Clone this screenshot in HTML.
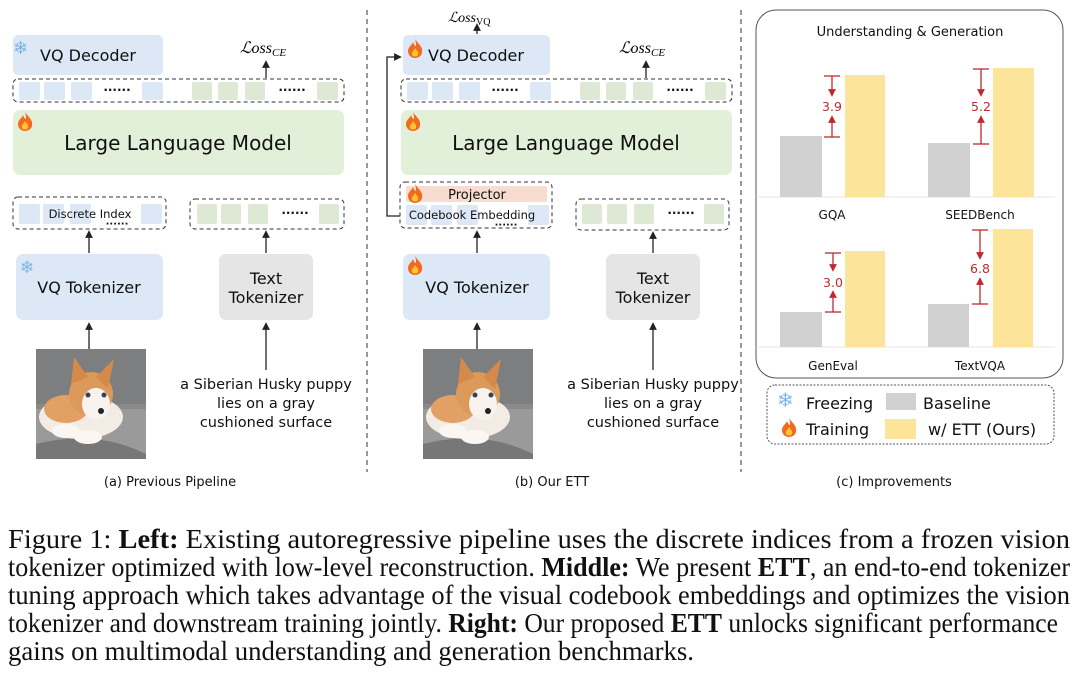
<!DOCTYPE html>
<html><head><meta charset="utf-8"><style>
html,body{margin:0;padding:0;background:#fff;}
svg{display:block;}
.t{font-family:"DejaVu Sans","Liberation Sans",sans-serif;fill:#111;}
.sn{font-family:"DejaVu Sans","Liberation Sans",sans-serif;fill:#7ab6e6;}
.s{font-family:"Liberation Serif",serif;fill:#111;font-size:27px;}
</style></head><body>
<svg width="1080" height="682" viewBox="0 0 1080 682" xmlns="http://www.w3.org/2000/svg">
<defs>
<marker id="ar" markerWidth="6" markerHeight="6" refX="3" refY="3" orient="auto"><path d="M0,0 L6,3 L0,6 z" fill="#222"/></marker>
<marker id="rr" markerWidth="6" markerHeight="6" refX="3" refY="3" orient="auto"><path d="M0,0 L6,3 L0,6 z" fill="#c0282d"/></marker>
<g id="pup">
<rect x="0" y="0" width="110" height="110" fill="#8a8a8a"/>
<rect x="0" y="0" width="110" height="55" fill="#7d7e80"/>
<rect x="0" y="60" width="110" height="50" fill="#9a9a9a"/>
<path d="M0,95 Q60,80 110,105 L110,110 L0,110z" fill="#777"/>
<ellipse cx="45" cy="68" rx="42" ry="22" fill="#f3ece4"/>
<ellipse cx="30" cy="60" rx="22" ry="14" fill="#e2a064"/>
<ellipse cx="55" cy="45" rx="22" ry="22" fill="#dc9a5a"/>
<path d="M35,35 L38,8 L52,28z" fill="#d58a4a"/><path d="M60,28 L78,10 L72,40z" fill="#d58a4a"/>
<ellipse cx="60" cy="55" rx="14" ry="16" fill="#f7f2ee"/>
<circle cx="52" cy="46" r="2.5" fill="#345"/><circle cx="68" cy="46" r="2.5" fill="#345"/>
<circle cx="65" cy="62" r="3" fill="#222"/>
<ellipse cx="30" cy="82" rx="14" ry="7" fill="#fbf6f2"/><ellipse cx="52" cy="88" rx="14" ry="7" fill="#fbf6f2"/>
</g>
<g id="fire"><path d="M8,0 C12,6 16,8 15,13 C15,17 11,19 8,19 C4,19 1,16 1,12 C1,8 5,6 6,3 C7,6 8,7 9,7 C9,5 9,3 8,0z" fill="#f26a1b"/><path d="M8,9 C10,12 12,13 11,16 C10,18 6,18 5,16 C4,13 7,12 8,9z" fill="#fcc33a"/></g>
</defs>

<line x1="367" y1="10" x2="367" y2="472" stroke="#333" stroke-dasharray="5,4"/>
<line x1="741" y1="10" x2="741" y2="472" stroke="#333" stroke-dasharray="5,4"/>

<!-- LEFT -->
<rect x="13" y="35" width="150" height="40" rx="5" fill="#dce8f6"/>
<text x="13" y="54" font-size="18" class="sn">❄</text>
<text x="88" y="61" font-size="16" text-anchor="middle" class="t">VQ Decoder</text>
<text x="240" y="53" font-size="16" font-style="italic" font-family="Liberation Serif,serif">ℒoss<tspan font-size="11" dy="3">CE</tspan></text>
<line x1="266" y1="78" x2="266" y2="64" stroke="#222" stroke-width="1.3" marker-end="url(#ar)"/>
<rect x="13" y="79" width="331" height="23" rx="5" fill="none" stroke="#333" stroke-dasharray="4,3"/>
<g fill="#dce8f6"><rect x="19" y="82" width="21" height="18" rx="2"/><rect x="44" y="82" width="21" height="18" rx="2"/><rect x="71" y="82" width="21" height="18" rx="2"/><rect x="142" y="82" width="21" height="18" rx="2"/></g>
<g fill="#dde9d4"><rect x="192" y="82" width="20" height="18" rx="2"/><rect x="218" y="82" width="20" height="18" rx="2"/><rect x="245" y="82" width="20" height="18" rx="2"/><rect x="317" y="82" width="21" height="18" rx="2"/></g>
<text x="117" y="94" font-size="12" text-anchor="middle" class="t" font-weight="bold">······</text>
<text x="292" y="94" font-size="12" text-anchor="middle" class="t" font-weight="bold">······</text>
<rect x="13" y="110" width="331" height="65" rx="7" fill="#e2efd9"/>
<use href="#fire" x="17" y="112"/>
<text x="178" y="150" font-size="20" text-anchor="middle" class="t">Large Language Model</text>
<rect x="13" y="197" width="153" height="32" rx="5" fill="none" stroke="#333" stroke-dasharray="4,3"/>
<g fill="#dce8f6"><rect x="19" y="204" width="21" height="20" rx="2"/><rect x="43" y="204" width="21" height="20" rx="2"/><rect x="70" y="204" width="21" height="20" rx="2"/><rect x="141" y="204" width="21" height="20" rx="2"/></g>
<text x="90" y="218" font-size="11.5" text-anchor="middle" class="t">Discrete Index</text>
<text x="117" y="227" font-size="10" text-anchor="middle" class="t" font-weight="bold">······</text>
<rect x="190" y="199" width="154" height="30" rx="5" fill="none" stroke="#333" stroke-dasharray="4,3"/>
<g fill="#dde9d4"><rect x="197" y="204" width="20" height="20" rx="2"/><rect x="221" y="204" width="20" height="20" rx="2"/><rect x="248" y="204" width="20" height="20" rx="2"/><rect x="319" y="204" width="20" height="20" rx="2"/></g>
<text x="295" y="217" font-size="12" text-anchor="middle" class="t" font-weight="bold">······</text>
<line x1="89" y1="253" x2="89" y2="234" stroke="#222" stroke-width="1.3" marker-end="url(#ar)"/>
<line x1="266" y1="253" x2="266" y2="234" stroke="#222" stroke-width="1.3" marker-end="url(#ar)"/>
<rect x="16" y="254" width="147" height="66" rx="7" fill="#dce8f6"/>
<text x="20" y="273" font-size="17" class="sn">❄</text>
<text x="89" y="293" font-size="16" text-anchor="middle" class="t">VQ Tokenizer</text>
<rect x="219" y="254" width="94" height="66" rx="7" fill="#e5e5e5"/>
<text x="266" y="284" font-size="16" text-anchor="middle" class="t">Text</text>
<text x="266" y="303" font-size="16" text-anchor="middle" class="t">Tokenizer</text>
<line x1="89" y1="349" x2="89" y2="326" stroke="#222" stroke-width="1.3" marker-end="url(#ar)"/>
<line x1="266" y1="370" x2="266" y2="326" stroke="#222" stroke-width="1.3" marker-end="url(#ar)"/>
<use href="#pup" x="36" y="349"/>
<text x="266" y="389" font-size="14.5" text-anchor="middle" class="t">a Siberian Husky puppy</text>
<text x="266" y="408" font-size="14.5" text-anchor="middle" class="t">lies on a gray</text>
<text x="266" y="427" font-size="14.5" text-anchor="middle" class="t">cushioned surface</text>
<text x="170" y="486" font-size="13" text-anchor="middle" class="t">(a) Previous Pipeline</text>

<!-- MIDDLE -->
<text x="448" y="22" font-size="14" font-style="italic" font-family="Liberation Serif,serif">ℒoss<tspan font-size="10" dy="3" font-style="normal">VQ</tspan></text>
<line x1="477" y1="34" x2="477" y2="27" stroke="#222" stroke-width="1.3" marker-end="url(#ar)"/>
<rect x="403" y="35" width="147" height="40" rx="5" fill="#dce8f6"/>
<use href="#fire" x="407" y="39"/>
<text x="476" y="61" font-size="16" text-anchor="middle" class="t">VQ Decoder</text>
<polyline points="400,216 387,216 387,57 398,57" fill="none" stroke="#222" stroke-width="1.3" marker-end="url(#ar)"/>
<text x="619" y="53" font-size="16" font-style="italic" font-family="Liberation Serif,serif">ℒoss<tspan font-size="11" dy="3">CE</tspan></text>
<line x1="646" y1="78" x2="646" y2="64" stroke="#222" stroke-width="1.3" marker-end="url(#ar)"/>
<rect x="401" y="79" width="331" height="23" rx="5" fill="none" stroke="#333" stroke-dasharray="4,3"/>
<g fill="#dce8f6"><rect x="407" y="82" width="21" height="18" rx="2"/><rect x="432" y="82" width="21" height="18" rx="2"/><rect x="459" y="82" width="21" height="18" rx="2"/><rect x="530" y="82" width="21" height="18" rx="2"/></g>
<g fill="#dde9d4"><rect x="580" y="82" width="20" height="18" rx="2"/><rect x="606" y="82" width="20" height="18" rx="2"/><rect x="633" y="82" width="20" height="18" rx="2"/><rect x="705" y="82" width="21" height="18" rx="2"/></g>
<text x="505" y="94" font-size="12" text-anchor="middle" class="t" font-weight="bold">······</text>
<text x="680" y="94" font-size="12" text-anchor="middle" class="t" font-weight="bold">······</text>
<rect x="401" y="110" width="331" height="65" rx="7" fill="#e2efd9"/>
<use href="#fire" x="405" y="112"/>
<text x="566" y="150" font-size="20" text-anchor="middle" class="t">Large Language Model</text>
<rect x="400" y="182" width="152" height="46" rx="5" fill="none" stroke="#333" stroke-dasharray="4,3"/>
<rect x="406" y="186" width="141" height="16" rx="2" fill="#f8dccf"/>
<use href="#fire" x="407" y="184"/>
<text x="477" y="199" font-size="13" text-anchor="middle" class="t">Projector</text>
<g fill="#dce8f6"><rect x="406" y="205" width="21" height="20" rx="2"/><rect x="431" y="205" width="21" height="20" rx="2"/><rect x="457" y="205" width="21" height="20" rx="2"/><rect x="528" y="205" width="21" height="20" rx="2"/></g>
<text x="472" y="219" font-size="11.5" text-anchor="middle" class="t">Codebook Embedding</text>
<text x="506" y="228" font-size="10" text-anchor="middle" class="t" font-weight="bold">······</text>
<rect x="576" y="199" width="153" height="31" rx="5" fill="none" stroke="#333" stroke-dasharray="4,3"/>
<g fill="#dde9d4"><rect x="582" y="204" width="20" height="20" rx="2"/><rect x="607" y="204" width="20" height="20" rx="2"/><rect x="634" y="204" width="20" height="20" rx="2"/><rect x="704" y="204" width="20" height="20" rx="2"/></g>
<text x="681" y="217" font-size="12" text-anchor="middle" class="t" font-weight="bold">······</text>
<line x1="477" y1="253" x2="477" y2="234" stroke="#222" stroke-width="1.3" marker-end="url(#ar)"/>
<line x1="653" y1="253" x2="653" y2="235" stroke="#222" stroke-width="1.3" marker-end="url(#ar)"/>
<rect x="403" y="254" width="147" height="66" rx="7" fill="#dce8f6"/>
<use href="#fire" x="407" y="256"/>
<text x="477" y="293" font-size="16" text-anchor="middle" class="t">VQ Tokenizer</text>
<rect x="606" y="254" width="94" height="66" rx="7" fill="#e5e5e5"/>
<text x="653" y="284" font-size="16" text-anchor="middle" class="t">Text</text>
<text x="653" y="303" font-size="16" text-anchor="middle" class="t">Tokenizer</text>
<line x1="477" y1="349" x2="477" y2="326" stroke="#222" stroke-width="1.3" marker-end="url(#ar)"/>
<line x1="653" y1="370" x2="653" y2="326" stroke="#222" stroke-width="1.3" marker-end="url(#ar)"/>
<use href="#pup" x="423" y="349"/>
<text x="653" y="389" font-size="14.5" text-anchor="middle" class="t">a Siberian Husky puppy</text>
<text x="653" y="408" font-size="14.5" text-anchor="middle" class="t">lies on a gray</text>
<text x="653" y="427" font-size="14.5" text-anchor="middle" class="t">cushioned surface</text>
<text x="552" y="486" font-size="13" text-anchor="middle" class="t">(b) Our ETT</text>

<!-- RIGHT -->
<rect x="756" y="10" width="307" height="368" rx="20" fill="none" stroke="#555" stroke-width="1"/>
<text x="910" y="36" font-size="13" text-anchor="middle" class="t">Understanding &amp; Generation</text>
<line x1="758" y1="197" x2="1055" y2="197" stroke="#e6e6e6"/>
<line x1="758" y1="347" x2="1055" y2="347" stroke="#e6e6e6"/>
<g fill="#d1d1d1"><rect x="780" y="136" width="42" height="61"/><rect x="928" y="143" width="42" height="54"/><rect x="780" y="312" width="42" height="35"/><rect x="928" y="304" width="41" height="43"/></g>
<g fill="#fde49b"><rect x="845" y="75" width="40" height="122"/><rect x="993" y="68" width="41" height="129"/><rect x="845" y="251" width="40" height="96"/><rect x="993" y="229" width="40" height="118"/></g>
<g stroke="#c0282d" stroke-width="1.3">
<line x1="824" y1="76" x2="840" y2="76"/><line x1="824" y1="137" x2="840" y2="137"/>
<line x1="832" y1="76" x2="832" y2="93" marker-end="url(#rr)"/><line x1="832" y1="137" x2="832" y2="119" marker-end="url(#rr)"/>
<line x1="973" y1="69" x2="989" y2="69"/><line x1="973" y1="144" x2="989" y2="144"/>
<line x1="981" y1="69" x2="981" y2="93" marker-end="url(#rr)"/><line x1="981" y1="144" x2="981" y2="119" marker-end="url(#rr)"/>
<line x1="825" y1="253" x2="841" y2="253"/><line x1="825" y1="312" x2="841" y2="312"/>
<line x1="833" y1="253" x2="833" y2="268" marker-end="url(#rr)"/><line x1="833" y1="312" x2="833" y2="294" marker-end="url(#rr)"/>
<line x1="972" y1="230" x2="988" y2="230"/><line x1="972" y1="304" x2="988" y2="304"/>
<line x1="980" y1="230" x2="980" y2="256" marker-end="url(#rr)"/><line x1="980" y1="304" x2="980" y2="281" marker-end="url(#rr)"/>
</g>
<g font-size="12.5" text-anchor="middle" font-family="DejaVu Sans,sans-serif">
<text x="832" y="111" style="fill:#c0282d">3.9</text><text x="981" y="111" style="fill:#c0282d">5.2</text>
<text x="833" y="287" style="fill:#c0282d">3.0</text><text x="980" y="273" style="fill:#c0282d">6.8</text>
</g>
<g font-size="12" text-anchor="middle" class="t">
<text x="832" y="219">GQA</text><text x="980" y="219">SEEDBench</text>
<text x="833" y="370">GenEval</text><text x="980" y="370">TextVQA</text>
</g>
<rect x="767" y="385" width="287" height="59" rx="8" fill="none" stroke="#555" stroke-dasharray="2,1.5"/>
<text x="777" y="407" font-size="20" class="sn">❄</text>
<text x="806" y="409" font-size="16" class="t">Freezing</text>
<rect x="886" y="393" width="30" height="17" fill="#d1d1d1"/>
<text x="923" y="409" font-size="16" class="t">Baseline</text>
<use href="#fire" x="781" y="418"/>
<text x="806" y="435" font-size="16" class="t">Training</text>
<rect x="885" y="419" width="31" height="20" fill="#fde49b"/>
<text x="928" y="435" font-size="16" class="t">w/ ETT (Ours)</text>
<text x="894" y="486" font-size="13" text-anchor="middle" class="t">(c) Improvements</text>

<!-- CAPTION -->
<text class="s" x="8" y="548" textLength="1062" lengthAdjust="spacingAndGlyphs">Figure 1:    <tspan font-weight="bold">Left:</tspan> Existing autoregressive pipeline uses the discrete indices from a frozen vision</text>
<text class="s" x="8" y="576" textLength="1062" lengthAdjust="spacingAndGlyphs">tokenizer optimized with low-level reconstruction. <tspan font-weight="bold">Middle:</tspan> We present <tspan font-weight="bold">ETT</tspan>, an end-to-end tokenizer</text>
<text class="s" x="8" y="604" textLength="1062" lengthAdjust="spacingAndGlyphs">tuning approach which takes advantage of the visual codebook embeddings and optimizes the vision</text>
<text class="s" x="8" y="632" textLength="1050" lengthAdjust="spacingAndGlyphs">tokenizer and downstream training jointly. <tspan font-weight="bold">Right:</tspan> Our proposed <tspan font-weight="bold">ETT</tspan> unlocks significant performance</text>
<text class="s" x="8" y="660" textLength="686" lengthAdjust="spacingAndGlyphs">gains on multimodal understanding and generation benchmarks.</text>
</svg>
</body></html>
